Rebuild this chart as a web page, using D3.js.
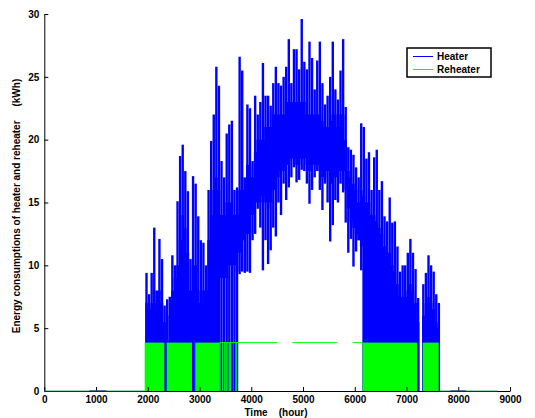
<!DOCTYPE html>
<html lang="en">
<head>
<meta charset="utf-8">
<title>Energy consumptions of heater and reheater</title>
<script src="https://d3js.org/d3.v7.min.js"></script>
<style>
  body { margin: 0; background: #fff; }
  text { font-family: "Liberation Sans", Arial, Helvetica, sans-serif; font-weight: bold; }
</style>
</head>
<body>
<script>
// hourly data condensed into 50 h bins (kWh)
var binTimes = d3.range(1950, 7650, 50);

// highest spike in each bin
var heaterMax = [
  9.4, 7.7, 9.4, 13.0, 8.0, 12.1, 10.5, 6.8, 7.3, 7.5,
  10.8, 10.0, 15.1, 18.7, 19.6, 17.5, 15.9, 10.5, 17.1, 16.5,
  13.9, 12.0, 11.8, 10.0, 16.0, 19.9, 22.0, 25.8, 24.3, 18.3,
  17.0, 20.5, 21.2, 21.5, 16.0, 16.2, 26.6, 25.5, 17.0, 22.8,
  22.5, 18.3, 23.5, 22.0, 23.0, 26.1, 23.5, 23.5, 22.7, 24.5,
  25.8, 24.5, 24.3, 25.0, 25.8, 28.0, 24.5, 27.2, 27.2, 25.6,
  29.6, 26.2, 25.6, 27.8, 26.5, 24.0, 26.3, 27.8, 24.5, 22.8,
  23.5, 25.0, 27.8, 24.0, 23.2, 25.5, 28.0, 22.6, 19.4, 19.2,
  18.8, 17.8, 17.0, 21.3, 21.0, 18.5, 19.0, 16.0, 18.6, 19.2,
  16.0, 16.7, 13.9, 13.5, 15.4, 13.4, 13.5, 11.5, 9.5, 10.0,
  10.0, 11.0, 12.1, 11.0, 9.7, 7.4, 0, 8.5, 9.4, 10.8,
  10.0, 9.5, 7.7, 7.0
];
// top of the solid band
var heaterTop = [
  7, 6.5, 7, 8, 7, 8, 7, 5.5, 4, 6,
  8, 9, 10, 12, 14, 13, 11, 8, 10, 10,
  8, 7, 8, 8, 12, 14, 16, 17, 16, 14,
  14, 15, 15, 15, 14, 14, 16, 17, 16, 18,
  18, 17, 19, 20, 20, 20, 21, 21, 21, 22,
  22, 22, 22, 22, 23, 23, 23, 23, 23, 23,
  23, 23, 22, 22, 22, 22, 22, 22, 21.5, 21,
  21, 21.5, 22, 22, 21, 22, 22, 20, 17.5, 17,
  16.5, 16, 15, 16, 15.5, 15, 15, 14, 14, 13.5,
  13, 12.5, 11.5, 11, 11, 10, 9.5, 8.5, 7.5, 7.5,
  7.5, 8, 8.5, 8, 7, 5.5, 0, 6, 7, 7.5,
  7, 6.5, 5.5, 5
];
// bottom of the solid band
var heaterBottom = [
  0, 0, 0, 0, 0, 0, 0, 0, 0, 0,
  0, 0, 0, 0, 0, 0, 0, 0, 4, 0,
  0, 0, 0, 0, 0, 0, 0, 0, 0, 9,
  9, 9, 10, 10, 10, 9.5, 11, 12, 12, 12.5,
  12.5, 14, 15, 15, 15, 15.5, 15, 14.5, 15, 16,
  16, 17, 17.5, 17.5, 18, 18, 18.5, 18.5, 18, 18,
  18.5, 18.5, 18, 17.5, 18, 18, 18, 17.5, 17, 17,
  17.5, 16.5, 16.5, 17, 17, 17.5, 17.5, 16, 14.5, 13.5,
  13, 12.5, 12, 11.5, 0, 0, 0, 0, 0, 0,
  0, 0, 0, 0, 0, 0, 0, 0, 0, 0,
  0, 0, 0, 0, 0, 0, 0, 0, 0, 0,
  0, 0, 0, 0
];
// lowest dip in each bin
var heaterMin = [
  0, 0, 0, 0, 0, 0, 0, 0, 0, 0,
  0, 0, 0, 0, 0, 0, 0, 0, 0, 0,
  0, 0, 0, 0, 0, 0, 0, 0, 0, 0,
  0, 0, 0, 0, 0, 0, 9.3, 9.5, 9.4, 9.5,
  9.4, 12, 12.5, 14.5, 13, 9.6, 12, 10.1, 11.2, 13,
  12.3, 15, 14, 16.5, 15.2, 16.2, 17, 17.8, 16.6, 16.8,
  17.6, 17.5, 16.5, 14.9, 16, 17, 17.5, 16, 14.4, 16.5,
  15, 11.9, 13.2, 15.2, 15, 16.5, 15.8, 13.4, 11, 12.1,
  9.9, 11.1, 12, 9.6, 0, 0, 0, 0, 0, 0,
  0, 0, 0, 0, 0, 0, 0, 0, 0, 0,
  0, 0, 0, 0, 0, 0, 0, 0, 0, 0,
  0, 0, 0, 0
];
// heater slightly above zero (hours)
var heaterLowSpans = [[870, 1200], [7850, 8150]];

// reheater switches between 0 and its rated level
var reheatLevel = 3.85;
var reheatDense = [[1940, 2320], [2365, 2854], [2918, 3390], [6150, 7203], [7312, 7622]];
var reheatFlat = [[3390, 4503], [4793, 5663], [5960, 6150]];
var reheatDrops = [3395, 3447, 3485, 3524, 3550, 3582, 3601, 3711];
var reheatZero = [[0, 1940], [7622, 8760]];

var xTicks = d3.range(0, 9001, 1000);
var yTicks = d3.range(0, 31, 5);

var width = 535, height = 418;
var svg = d3.select("body").append("svg")
    .attr("width", width)
    .attr("height", height);

var x = d3.scaleLinear().domain([0, 9000]).range([44.3, 510]);
var y = d3.scaleLinear().domain([0, 30]).range([391, 14]);

var bins = binTimes.map(function(t, i) {
  return { t: t, max: heaterMax[i], top: heaterTop[i], bottom: heaterBottom[i], min: heaterMin[i] };
});
var stepBins = bins.concat([{ t: 7641, top: 0, bottom: 0 }]);

var plot = svg.append("g");

// heater: solid band
plot.append("path")
    .datum(stepBins)
    .attr("fill", "#0000ff")
    .attr("d", d3.area()
        .curve(d3.curveStepAfter)
        .x(function(d) { return x(d.t); })
        .y0(function(d) { return y(d.bottom); })
        .y1(function(d) { return y(d.top); }));

// heater: spikes
plot.selectAll("line.spike")
    .data(bins)
    .enter().append("line")
    .attr("class", "spike")
    .attr("x1", function(d) { return x(d.t + 25); })
    .attr("x2", function(d) { return x(d.t + 25); })
    .attr("y1", function(d) { return y(d.min); })
    .attr("y2", function(d) { return y(d.max); })
    .attr("stroke", "#0000ff")
    .attr("stroke-width", 2.4);

// axes go under the zero-level lines
var yAxis = svg.append("g")
    .attr("transform", "translate(" + x(0) + ",0)")
    .call(d3.axisLeft(y).tickValues(yTicks).tickFormat(d3.format("d"))
        .tickSize(-4).tickSizeOuter(0).tickPadding(5));
var xAxis = svg.append("g")
    .attr("transform", "translate(0," + y(0) + ")")
    .call(d3.axisBottom(x).tickValues(xTicks).tickFormat(d3.format("d"))
        .tickSize(-4).tickSizeOuter(0).tickPadding(5));
[xAxis, yAxis].forEach(function(a) {
  a.selectAll("text").attr("font-size", 10).attr("fill", "#000")
      .attr("font-family", "'Liberation Sans', Arial, sans-serif").attr("font-weight", "bold");
  a.selectAll("line, path").attr("stroke", "#000");
});

// reheater
var green = "#00ff00";
plot.selectAll("rect.dense")
    .data(reheatDense)
    .enter().append("rect")
    .attr("class", "dense")
    .attr("x", function(d) { return x(d[0]); })
    .attr("width", function(d) { return x(d[1]) - x(d[0]); })
    .attr("y", y(reheatLevel))
    .attr("height", y(0) - y(reheatLevel))
    .attr("fill", green);
svg.append("g").selectAll("line")
    .data(reheatFlat)
    .enter().append("line")
    .attr("x1", function(d) { return x(d[0]); })
    .attr("x2", function(d) { return x(d[1]); })
    .attr("y1", y(reheatLevel))
    .attr("y2", y(reheatLevel))
    .attr("stroke", green);
svg.append("g").selectAll("line")
    .data(reheatDrops)
    .enter().append("line")
    .attr("x1", function(d) { return x(d); })
    .attr("x2", function(d) { return x(d); })
    .attr("y1", y(reheatLevel))
    .attr("y2", y(0))
    .attr("stroke", green);
svg.append("g").selectAll("line")
    .data(reheatZero)
    .enter().append("line")
    .attr("x1", function(d) { return x(d[0]); })
    .attr("x2", function(d) { return x(d[1]); })
    .attr("y1", y(0))
    .attr("y2", y(0))
    .attr("stroke", "#00a040")
    .attr("stroke-opacity", 0.8);
svg.append("g").selectAll("line")
    .data(heaterLowSpans)
    .enter().append("line")
    .attr("x1", function(d) { return x(d[0]); })
    .attr("x2", function(d) { return x(d[1]); })
    .attr("y1", y(0))
    .attr("y2", y(0))
    .attr("stroke", "#1010a0");

// axis titles
svg.append("text")
    .attr("x", 276)
    .attr("y", 416)
    .attr("text-anchor", "middle")
    .attr("font-size", 10)
    .style("white-space", "pre")
    .text("Time    (hour)");
svg.append("text")
    .attr("transform", "translate(20,206) rotate(-90)")
    .attr("text-anchor", "middle")
    .attr("font-size", 10)
    .style("white-space", "pre")
    .text("Energy consumptions of heater and reheater     (kWh)");

// legend
var legend = svg.append("g").attr("transform", "translate(407,48)");
legend.append("rect")
    .attr("width", 84).attr("height", 29)
    .attr("fill", "#fff").attr("stroke", "#000").attr("stroke-width", 1.5);
var legendItems = [{ name: "Heater", color: "#0000ff" }, { name: "Reheater", color: green }];
var li = legend.selectAll("g.item")
    .data(legendItems)
    .enter().append("g")
    .attr("transform", function(d, i) { return "translate(0," + (8.5 + i * 13) + ")"; });
li.append("line")
    .attr("x1", 6).attr("x2", 26)
    .attr("stroke", function(d) { return d.color; });
li.append("text")
    .attr("x", 30).attr("y", 3.5)
    .attr("font-size", 10)
    .text(function(d) { return d.name; });
</script>
</body>
</html>
